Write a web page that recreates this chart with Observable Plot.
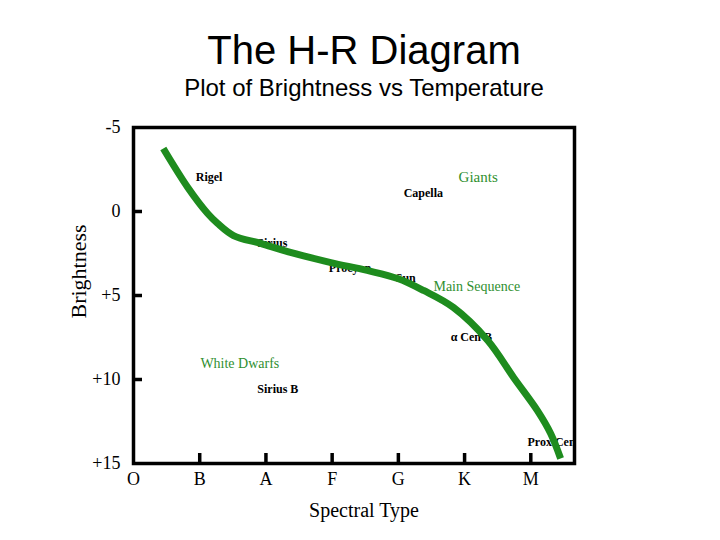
<!DOCTYPE html>
<html>
<head>
<meta charset="utf-8">
<script src="https://cdn.jsdelivr.net/npm/d3@7"></script>
<script src="https://cdn.jsdelivr.net/npm/@observablehq/plot@0.6"></script>
<style>
  body { margin: 0; background: #fff; width: 720px; height: 540px; position: relative; overflow: hidden; }
  .t { position: absolute; white-space: nowrap; transform: translateX(-50%); font-family: "Liberation Sans", Arial, sans-serif; color: #000; }
  #title { left: 364px; top: 28px; font-size: 40px; line-height: 44px; }
  #subtitle { left: 364px; top: 74px; font-size: 24px; line-height: 28px; }
  #chart { position: absolute; left: 0; top: 110px; }
</style>
</head>
<body>
<div id="title" class="t">The H-R Diagram</div>
<div id="subtitle" class="t">Plot of Brightness vs Temperature</div>
<div id="chart"></div>
<script>
// Spectral classes (x positions are class indices)
const spectralTypes = ["O", "B", "A", "F", "G", "K", "M"];
const spectralIndex = [0, 1, 2, 3, 4, 5, 6];
// Brightness (absolute magnitude) tick values
const brightnessTicks = [-5, 0, 5, 10, 15];
const innerBrightnessTicks = [0, 5, 10];
const innerSpectralTicks = [1, 2, 3, 4, 5, 6];

// The main curve (spectral index, brightness)
const curveX = [0.45, 0.82, 1.12, 1.27, 1.51, 1.92, 2.37, 2.98, 3.53, 3.99, 4.38, 4.83, 5.35, 5.74, 6.10, 6.30, 6.45];
const curveY = [-3.75, -1.43, 0.12, 0.71, 1.43, 1.90, 2.44, 3.04, 3.51, 3.99, 4.70, 5.71, 7.68, 9.88, 11.85, 13.21, 14.70];

// Star labels
const starNames = ["Rigel", "Capella", "Sirius", "Procyon", "Sun", "\u03b1 Cen B", "Sirius B", "Prox Cen"];
const starX = [0.94, 4.08, 1.87, 2.95, 3.96, 4.79, 1.87, 5.95];
const starY = [-2.02, -1.07, 1.90, 3.39, 3.99, 7.50, 10.60, 13.75];

// Region labels
const regionNames = ["Giants", "Main Sequence", "White Dwarfs"];
const regionX = [4.91, 4.53, 1.01];
const regionY = [-2.02, 4.46, 9.05];
const regionSize = [15, 14, 14];

const curve = curveX.map((x, i) => ({x, y: curveY[i]}));
const stars = starNames.map((name, i) => ({name, x: starX[i], y: starY[i]}));
const regions = regionNames.map((name, i) => ({name, x: regionX[i], y: regionY[i], size: regionSize[i]}));

const serif = "'Liberation Serif', 'Times New Roman', serif";
const green = "#1e8c1e";
const labelGreen = "#2f8f2f";

const W = 720, H = 430, ML = 133, MR = 146, MT = 17, MB = 77;
const frameW = W - ML - MR, frameH = H - MT - MB;

const fmt = d => d > 0 ? "+" + d : String(d);

const chart = Plot.plot({
  width: W,
  height: H,
  marginLeft: ML,
  marginRight: MR,
  marginTop: MT,
  marginBottom: MB,
  style: {fontFamily: serif, background: "white", color: "black"},
  x: {type: "linear", domain: [0, 6.66]},
  y: {type: "linear", domain: [-5, 15], reverse: true},
  marks: [
    Plot.axisY({ticks: brightnessTicks, tickSize: 0, tickPadding: 13, tickFormat: fmt, fontSize: 18, fontFamily: serif, label: null}),
    Plot.axisX({ticks: spectralIndex, tickSize: 0, tickPadding: 9, tickFormat: i => spectralTypes[i], fontSize: 18, fontFamily: serif, label: null}),
    Plot.tickY(innerBrightnessTicks, {y: d => d, insetRight: frameW - 9, strokeWidth: 3.5, stroke: "black"}),
    Plot.tickX(innerSpectralTicks, {x: d => d, insetTop: frameH - 10, strokeWidth: 3.5, stroke: "black"}),
    Plot.text(stars, {x: "x", y: "y", text: "name", textAnchor: "start", fontSize: 12, fontWeight: "bold", fontFamily: serif, fill: "black"}),
    Plot.text(regions, {x: "x", y: "y", text: "name", textAnchor: "start", fontSize: d => d.size, fontFamily: serif, fill: labelGreen}),
    Plot.line(curve, {x: "x", y: "y", curve: "catmull-rom", stroke: green, strokeWidth: 7, strokeLinecap: "butt"}),
    Plot.frame({stroke: "black", strokeWidth: 3.5}),
    Plot.text(["Brightness"], {text: d => d, frameAnchor: "left", rotate: -90, dx: -55, dy: 23, fontSize: 22, fontFamily: serif, fill: "black"}),
    Plot.text(["Spectral Type"], {text: d => d, frameAnchor: "bottom", dx: 10, dy: 53, fontSize: 20, fontFamily: serif, fill: "black"})
  ]
});
document.getElementById("chart").appendChild(chart);
</script>
</body>
</html>
